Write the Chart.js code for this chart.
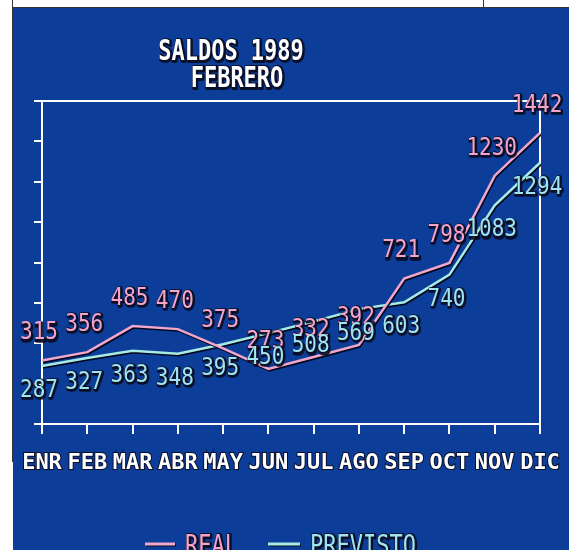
<!DOCTYPE html>
<html><head><meta charset="utf-8">
<script src="https://cdn.jsdelivr.net/npm/chart.js@4.4.1/dist/chart.umd.min.js"></script>
<style>html,body{margin:0;padding:0;background:#fff;overflow:hidden}canvas{display:block}</style>
</head><body>
<canvas id="c" width="569" height="550"></canvas>
<script>
const titleLines = ['SALDOS 1989', 'FEBRERO'];
const months = ['ENR','FEB','MAR','ABR','MAY','JUN','JUL','AGO','SEP','OCT','NOV','DIC'];
const realValues = [315, 356, 485, 470, 375, 273, 332, 392, 721, 798, 1230, 1442];
const previstoValues = [287, 327, 363, 348, 395, 450, 508, 569, 603, 740, 1083, 1294];
const seriesNames = ['REAL', 'PREVISTO'];
const yMin = 0, yMax = 1600, yStep = 200;

const BG = '#0c3d98';
const PINK = '#f2a6c9', PINK_TXT = '#f6a4c9';
const CYAN = '#a6ece2', CYAN_TXT = '#9fe4ee';
const MONO = '"DejaVu Sans Mono", "Liberation Mono", monospace';

function drawText(ctx, text, x, y, font, color, align, sy) {
  ctx.save();
  ctx.translate(x, y);
  ctx.scale(1, sy);
  ctx.font = font;
  ctx.textAlign = align;
  ctx.textBaseline = 'alphabetic';
  ctx.lineJoin = 'round';
  ctx.strokeStyle = 'rgba(10,10,30,0.9)';
  ctx.lineWidth = 3;
  ctx.strokeText(text, 1, 1);
  ctx.fillStyle = color;
  ctx.fillText(text, 0, 0);
  ctx.restore();
}

const bgPlugin = {
  id: 'bg',
  beforeDraw(chart) {
    const ctx = chart.ctx;
    ctx.save();
    ctx.fillStyle = '#ffffff';
    ctx.fillRect(0, 0, chart.width, chart.height);
    ctx.fillStyle = BG;
    ctx.fillRect(13, 8, chart.width - 13, chart.height - 8);
    ctx.strokeStyle = '#333';
    ctx.lineWidth = 1;
    ctx.beginPath();
    ctx.moveTo(12.5, 0); ctx.lineTo(12.5, 462);
    ctx.moveTo(13, 7.5); ctx.lineTo(chart.width, 7.5);
    ctx.moveTo(483.5, 0); ctx.lineTo(483.5, 8);
    ctx.stroke();
    ctx.restore();
  }
};

const shadowPlugin = {
  id: 'lineShadow',
  beforeDatasetsDraw(chart) {
    const ctx = chart.ctx;
    ctx.save();
    ctx.shadowColor = 'rgba(0,0,20,0.9)';
    ctx.shadowOffsetX = 1;
    ctx.shadowOffsetY = 1.5;
    ctx.shadowBlur = 0;
  },
  afterDatasetsDraw(chart) { chart.ctx.restore(); }
};

const valueLabels = {
  id: 'valueLabels',
  afterDatasetsDraw(chart) {
    const ctx = chart.ctx;
    const cfg = [
      { dy: -30 + 9, color: PINK_TXT },
      { dy: 22 + 9, color: CYAN_TXT }
    ];
    chart.data.datasets.forEach((ds, di) => {
      const meta = chart.getDatasetMeta(di);
      meta.data.forEach((pt, i) => {
        drawText(ctx, String(ds.data[i]), pt.x - 3, pt.y + cfg[di].dy,
          '21px ' + MONO, cfg[di].color, 'center', 1.15);
      });
    });
  }
};

const titlePlugin = {
  id: 'titleText',
  afterDraw(chart) {
    const ctx = chart.ctx;
    drawText(ctx, titleLines[0], 231, 60, 'bold 22px ' + MONO, '#ffffff', 'center', 1.25);
    drawText(ctx, titleLines[1], 237, 87, 'bold 22px ' + MONO, '#ffffff', 'center', 1.25);
  }
};

const legendPlugin = {
  id: 'legendText',
  afterDraw(chart) {
    const ctx = chart.ctx;
    const items = [
      { x1: 145, x2: 175, tx: 185, color: PINK, tcolor: PINK_TXT },
      { x1: 268, x2: 300, tx: 310, color: CYAN, tcolor: CYAN_TXT }
    ];
    items.forEach((it, i) => {
      ctx.save();
      ctx.strokeStyle = 'rgba(10,10,30,0.9)';
      ctx.lineWidth = 3;
      ctx.beginPath(); ctx.moveTo(it.x1 + 1, 545); ctx.lineTo(it.x2 + 1, 545); ctx.stroke();
      ctx.strokeStyle = it.color;
      ctx.beginPath(); ctx.moveTo(it.x1, 544); ctx.lineTo(it.x2, 544); ctx.stroke();
      ctx.restore();
      drawText(ctx, chart.data.datasets[i].label, it.tx, 555, '22px ' + MONO, it.tcolor, 'left', 1.25);
    });
  }
};

new Chart(document.getElementById('c'), {
  type: 'line',
  data: {
    labels: months,
    datasets: [
      { label: seriesNames[0], data: realValues, borderColor: PINK, borderWidth: 2.5,
        pointRadius: 0, tension: 0, fill: false },
      { label: seriesNames[1], data: previstoValues, borderColor: CYAN, borderWidth: 2.5,
        pointRadius: 0, tension: 0, fill: false }
    ]
  },
  options: {
    responsive: false,
    animation: false,
    devicePixelRatio: 1,
    layout: { padding: { left: 34, right: 29, top: 101, bottom: 75 } },
    plugins: { legend: { display: false }, title: { display: false }, tooltip: { enabled: false } },
    scales: {
      x: {
        offset: false,
        afterFit: (s) => { s.height = 51; s.paddingRight = 0; s.paddingLeft = 0; },
        grid: {
          display: true, drawOnChartArea: true, drawTicks: true, tickLength: 10, lineWidth: 2,
          color: (c) => (c.index === months.length - 1 ? '#ffffff' : 'rgba(0,0,0,0)'),
          tickColor: '#ffffff'
        },
        border: { display: true, color: '#ffffff', width: 2 },
        ticks: {
          color: '#ffffff', autoSkip: false, maxRotation: 0, minRotation: 0, padding: 18,
          textStrokeColor: 'rgba(10,10,30,0.9)', textStrokeWidth: 2,
          font: { family: MONO, weight: 'bold', size: 22, lineHeight: 1 }
        }
      },
      y: {
        min: yMin, max: yMax,
        afterFit: (s) => { s.width = 8; },
        grid: {
          display: true, drawOnChartArea: true, drawTicks: true, tickLength: 8, lineWidth: 2,
          color: (c) => (c.tick && c.tick.value === yMax ? '#ffffff' : 'rgba(0,0,0,0)'),
          tickColor: '#ffffff'
        },
        border: { display: true, color: '#ffffff', width: 2 },
        ticks: { display: false, stepSize: yStep }
      }
    }
  },
  plugins: [bgPlugin, shadowPlugin, valueLabels, titlePlugin, legendPlugin]
});
</script>
</body></html>
